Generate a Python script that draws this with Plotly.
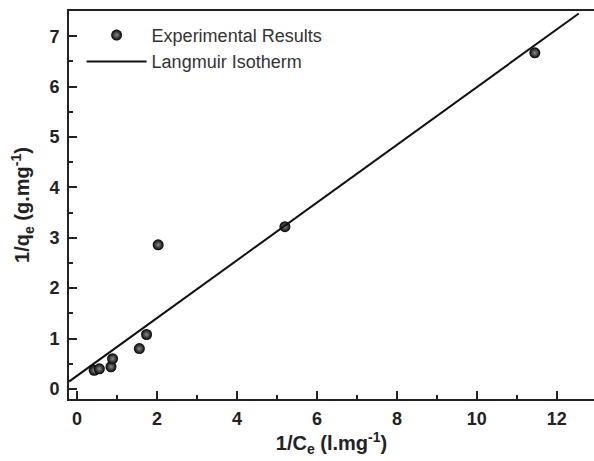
import plotly.graph_objects as go

inv_ce = [0.43, 0.56, 0.85, 0.89, 1.56, 1.74, 2.03, 5.2, 11.45]
inv_qe = [0.37, 0.40, 0.44, 0.60, 0.80, 1.08, 2.86, 3.22, 6.67]

# Langmuir isotherm fit
slope = 0.573
intercept = 0.26
line_x = [-0.2, 12.55]
line_y = [intercept + slope * x for x in line_x]

x_ticks = [0, 2, 4, 6, 8, 10, 12]
y_ticks = [0, 1, 2, 3, 4, 5, 6, 7]

FONT = "Liberation Sans, Arial"
DARK = "#222222"

fig = go.Figure()
fig.add_trace(go.Scatter(
    x=inv_ce, y=inv_qe, mode="markers", name="Experimental Results",
    marker=dict(size=11, color="#000000",
                gradient=dict(type="radial", color="#8a8a8a"),
                line=dict(width=0)),
))
fig.add_trace(go.Scatter(
    x=line_x, y=line_y, mode="lines", name="Langmuir Isotherm",
    line=dict(color="#111111", width=2),
))

axis_common = dict(
    showgrid=False, zeroline=False, showline=True, linecolor=DARK,
    linewidth=2, ticks="inside", ticklen=8, tickwidth=2, tickcolor=DARK,
    tickfont=dict(family=FONT, size=18, color=DARK),
)

fig.update_layout(
    width=594, height=461,
    margin=dict(l=69, r=0, t=11, b=62),
    paper_bgcolor="white", plot_bgcolor="white",
    showlegend=True,
    legend=dict(x=0.024, y=0.985, xanchor="left", yanchor="top",
                bgcolor="rgba(0,0,0,0)", borderwidth=0,
                font=dict(family=FONT, size=18, color="#333333"),
                itemwidth=60, tracegroupgap=2),
    font=dict(family=FONT),
)
fig.update_xaxes(
    range=[-0.2, 12.93], tickvals=x_ticks,
    ticktext=[f"<b>{v}</b>" for v in x_ticks], mirror=True,
    minor=dict(dtick=1, tick0=0, ticks="inside", ticklen=4, tickwidth=2, tickcolor=DARK),
    title=dict(text="<b>1/C<sub>e</sub> (l.mg<sup>-1</sup>)</b>", standoff=4,
               font=dict(family=FONT, size=20, color=DARK)),
    ticklabelstandoff=2,
    **axis_common,
)
fig.update_yaxes(
    range=[-0.2, 7.5], tickvals=y_ticks,
    ticktext=[f"<b>{v}</b>" for v in y_ticks],
    minor=dict(dtick=0.5, tick0=0, ticks="inside", ticklen=4, tickwidth=2, tickcolor=DARK),
    title=dict(text="<b>1/q<sub>e</sub> (g.mg<sup>-1</sup>)</b>", standoff=14,
               font=dict(family=FONT, size=20, color=DARK)),
    ticklabelstandoff=4,
    **axis_common,
)

fig.write_html("out.html")
